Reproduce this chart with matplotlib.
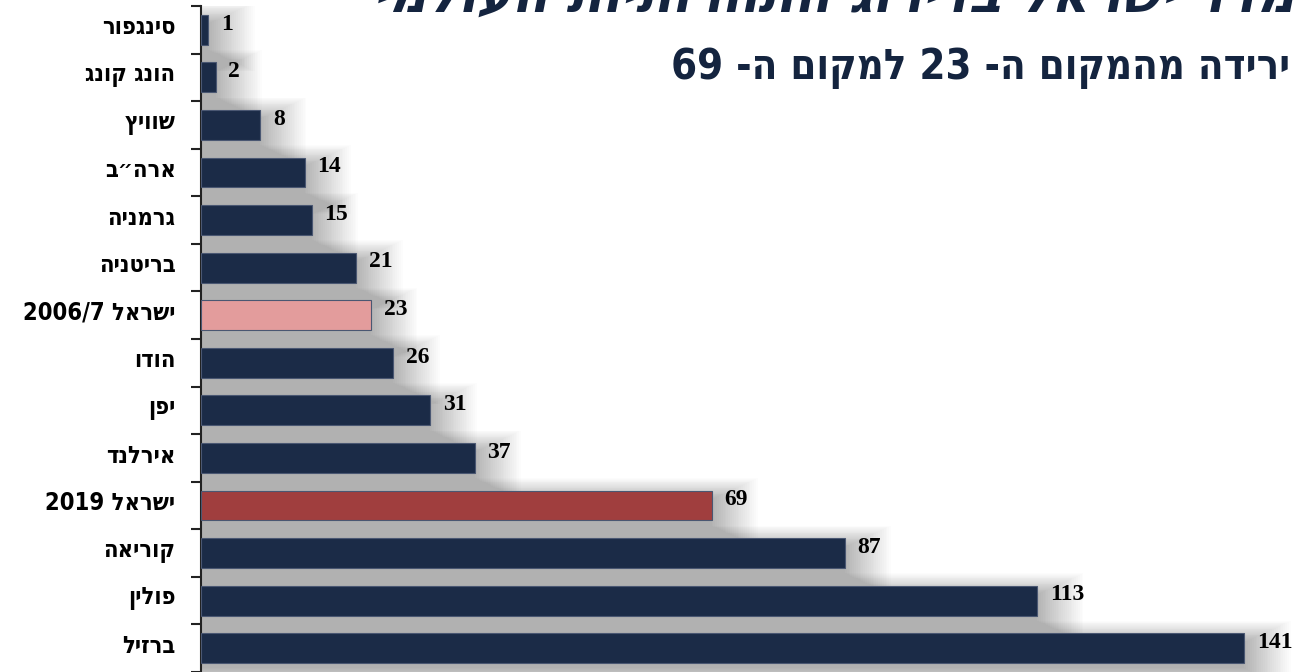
import re
import matplotlib
matplotlib.use('Agg')
import matplotlib.pyplot as plt

# data, top to bottom
countries = ['סינגפור', 'הונג קונג', 'שוויץ', 'ארה״ב', 'גרמניה', 'בריטניה', 'ישראל 2006/7',
             'הודו', 'יפן', 'אירלנד', 'ישראל 2019', 'קוריאה', 'פולין', 'ברזיל']
ranks = [1, 2, 8, 14, 15, 21, 23, 26, 31, 37, 69, 87, 113, 141]
bar_colors = ['#1b2b47'] * 14
bar_colors[6] = '#e39c9c'
bar_colors[10] = '#a03e3e'

title = 'מדד ישראל בדירוג התחרותיות העולמי'
subtitle = 'ירידה מהמקום ה- 23 למקום ה- 69'


def visual(s):
    # matplotlib has no bidi: flip the string, then put numbers back in order
    r = s[::-1]
    return re.sub(r'[0-9/]+', lambda m: m.group(0)[::-1], r)


fig = plt.figure(figsize=(13.08, 6.72), dpi=100)
ax = fig.add_axes([201 / 1308, 0, 1107 / 1308, 666 / 672])

pos = list(range(len(ranks)))

# soft drop shadow behind the bars
for i in range(26):
    grow = i * 0.25
    ax.barh([p + 0.15 for p in pos], [r + grow for r in ranks], height=0.55 + i * 0.036,
            left=0, color='black', alpha=0.012, linewidth=0, zorder=1)

ax.barh(pos, ranks, height=0.63, color=bar_colors, edgecolor='#4a5772', linewidth=0.8, zorder=3)

for p, r in zip(pos, ranks):
    ax.text(r + 1.7, p - 0.12, str(r), va='center', ha='left', fontsize=17, fontweight='bold',
            family='Liberation Serif', color='black', zorder=4)

ax.set_xlim(0, 1107 / 7.4)
ax.set_ylim(len(ranks) - 0.5, -0.5)
ax.set_yticks([p - 0.5 for p in pos] + [len(pos) - 0.5])
ax.set_yticklabels([])
ax.tick_params(axis='y', length=7, width=1.5, color='#222222', direction='out')
ax.set_xticks([])
for s in ['top', 'right', 'bottom']:
    ax.spines[s].set_visible(False)
ax.spines['left'].set_color('#222222')
ax.spines['left'].set_linewidth(1.5)

for p, c in zip(pos, countries):
    ax.text(-0.023, p - 0.05, visual(c), transform=ax.get_yaxis_transform(), ha='right', va='center',
            fontsize=17, fontweight='bold', family='DejaVu Sans', fontstretch='condensed',
            color='black')

fig.text(1290 / 1308, 1 - 68 / 672, visual(subtitle), ha='right', va='center', fontsize=30,
         fontweight='bold', family='DejaVu Sans', fontstretch='condensed', color='#14243f')
fig.text(1295 / 1308, 1 - 12 / 672, visual(title), ha='right', va='baseline', fontsize=38,
         fontweight='bold', style='italic', family='DejaVu Sans', color='#14243f')

fig.savefig('out.png', dpi=100)
